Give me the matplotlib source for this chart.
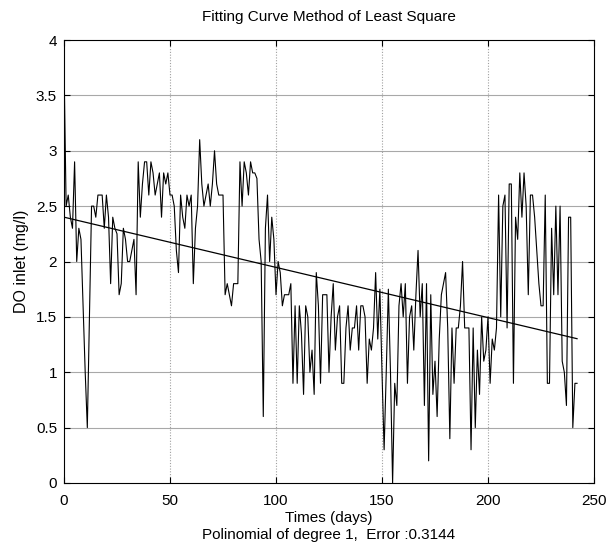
import numpy as np
import matplotlib
matplotlib.use("Agg")
import matplotlib.pyplot as plt

plt.rcParams['font.family'] = ['Liberation Sans', 'DejaVu Sans']

# DO inlet readings (mg/l), one per day
do_inlet = [
    3.8, 2.5, 2.6, 2.4, 2.3, 2.9, 2.0, 2.3, 2.2, 1.6,
    1.0, 0.5, 1.5, 2.5, 2.5, 2.4, 2.6, 2.6, 2.6, 2.3,
    2.6, 2.4, 1.8, 2.4, 2.3, 2.25, 1.7, 1.8, 2.3, 2.2,
    2.0, 2.0, 2.1, 2.2, 1.7, 2.9, 2.4, 2.7, 2.9, 2.9,
    2.6, 2.9, 2.8, 2.6, 2.7, 2.8, 2.4, 2.8, 2.7, 2.8,
    2.6, 2.6, 2.5, 2.1, 1.9, 2.6, 2.4, 2.3, 2.6, 2.5,
    2.6, 1.8, 2.3, 2.5, 3.1, 2.7, 2.5, 2.6, 2.7, 2.5,
    2.7, 3.0, 2.7, 2.6, 2.6, 2.6, 1.7, 1.8, 1.7, 1.6,
    1.8, 1.8, 1.8, 2.9, 2.5, 2.9, 2.8, 2.6, 2.9, 2.8,
    2.8, 2.75, 2.2, 2.0, 0.6, 2.3, 2.6, 2.0, 2.4, 2.2,
    1.7, 2.0, 1.9, 1.6, 1.7, 1.7, 1.7, 1.8, 0.9, 1.6,
    0.9, 1.6, 1.35, 0.8, 1.6, 1.5, 1.0, 1.2, 0.8, 1.9,
    1.6, 0.9, 1.7, 1.7, 1.7, 1.0, 1.5, 1.8, 1.2, 1.5,
    1.6, 0.9, 0.9, 1.4, 1.6, 1.2, 1.4, 1.4, 1.6, 1.2,
    1.6, 1.6, 1.5, 0.9, 1.3, 1.2, 1.4, 1.9, 1.3, 1.75,
    1.0, 0.3, 1.0, 1.75, 1.0, 0.0, 0.9, 0.7, 1.6, 1.8,
    1.5, 1.8, 0.9, 1.5, 1.6, 1.2, 1.7, 2.1, 1.5, 1.8,
    0.7, 1.8, 0.2, 1.7, 0.8, 1.1, 0.6, 1.3, 1.7, 1.8,
    1.9, 1.4, 0.4, 1.4, 0.9, 1.4, 1.4, 1.6, 2.0, 1.4,
    1.4, 1.4, 0.3, 1.4, 0.5, 1.2, 0.8, 1.5, 1.1, 1.2,
    1.5, 0.9, 1.3, 1.2, 1.4, 2.6, 1.5, 2.5, 2.6, 1.4,
    2.7, 2.7, 0.9, 2.4, 2.2, 2.8, 2.4, 2.8, 2.5, 1.7,
    2.6, 2.6, 2.4, 2.1, 1.8, 1.6, 1.6, 2.6, 0.9, 0.9,
    2.3, 1.7, 2.5, 1.7, 2.5, 1.1, 1.0, 0.7, 2.4, 2.4,
    0.5, 0.9, 0.9,
]
days = np.arange(len(do_inlet))

title_text = "Fitting Curve Method of Least Square"
x_label = "Times (days)"
x_label2 = "Polinomial of degree 1,  Error :0.3144"
y_label = "DO inlet (mg/l)"
x_ticks = [0, 50, 100, 150, 200, 250]
y_ticks = [0, 0.5, 1, 1.5, 2, 2.5, 3, 3.5, 4]
y_tick_labels = ['0', '0.5', '1', '1.5', '2', '2.5', '3', '3.5', '4']

coef = np.polyfit(days, do_inlet, 1)
fit = np.polyval(coef, days)

fig = plt.figure(figsize=(6.15, 5.51), dpi=100)
ax = fig.add_axes([64/615, 1-483/551, (594-64)/615, (483-40)/551])

ax.plot(days, do_inlet, color='black', lw=0.8)
ax.plot(days, fit, color='black', lw=0.9)

ax.set_xlim(0, 250)
ax.set_ylim(0, 4)
ax.set_xticks(x_ticks)
ax.set_yticks(y_ticks)
ax.set_yticklabels(y_tick_labels)
ax.grid(False)
for yv in y_ticks[1:-1]:
    ax.axhline(yv, color='#a8a8a8', lw=0.8, zorder=0)
for xv in x_ticks[1:-1]:
    ax.axvline(xv, color='#a0a0a0', lw=0.8, ls=(0, (1, 1.5)), zorder=0)

ax.tick_params(direction='in', top=True, right=True, length=4, width=0.8,
               labelsize=11, colors='black')
ax.tick_params(axis='x', pad=8)
ax.tick_params(axis='y', pad=5)
for s in ax.spines.values():
    s.set_linewidth(0.8)
    s.set_color('black')

ax.set_title(title_text, fontsize=11, pad=14)
ax.set_ylabel(y_label, fontsize=11.5, labelpad=5)
ax.set_xlabel(x_label + "\n" + x_label2, fontsize=11, labelpad=2, linespacing=1.3)

fig.savefig("out.png", dpi=100)
